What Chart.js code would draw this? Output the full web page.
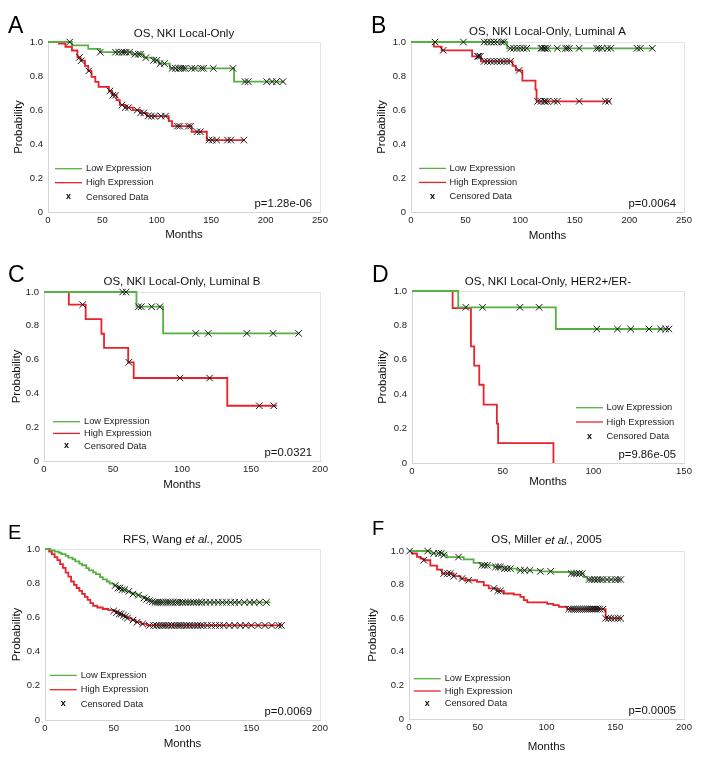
<!DOCTYPE html>
<html>
<head>
<meta charset="utf-8">
<script src="https://cdn.jsdelivr.net/npm/chart.js@4.4.0/dist/chart.umd.min.js"></script>
<style>
html, body { margin: 0; padding: 0; background: #fff; }
#wrap { position: relative; width: 708px; height: 757px; overflow: hidden; }
canvas { position: absolute; }
</style>
</head>
<body>
<div id="wrap">
  <canvas id="panelA"></canvas>
  <canvas id="panelB"></canvas>
  <canvas id="panelC"></canvas>
  <canvas id="panelD"></canvas>
  <canvas id="panelE"></canvas>
  <canvas id="panelF"></canvas>
</div>
<script>
//////////////////////////////// DATA (months / survival probability)

// A : OS, NKI Local-Only
const aLowTime  = [0, 22, 37, 48, 77, 88, 97, 102, 112, 171, 217];
const aLowSurv  = [1, 0.98, 0.96, 0.94, 0.928, 0.908, 0.892, 0.873, 0.845, 0.767, 0.767];
const aLowCens  = [20, 48, 62, 65, 68, 70, 72, 75, 80, 83, 85, 90, 97, 100, 103, 107, 114, 117, 120, 122, 124, 126, 132, 135, 141, 143, 152, 170, 181, 184, 201, 206, 210, 216];
const aHighTime = [0, 10, 16, 22, 27, 30, 34, 37, 40, 43.5, 46.5, 56, 59, 63, 66, 71, 78, 85, 91, 111, 114, 132, 146, 181];
const aHighSurv = [1, 0.99, 0.972, 0.95, 0.91, 0.89, 0.86, 0.83, 0.795, 0.765, 0.736, 0.712, 0.687, 0.658, 0.63, 0.614, 0.599, 0.583, 0.564, 0.535, 0.505, 0.472, 0.423, 0.423];
const aHighCens = [29, 30.5, 37.5, 57, 59.5, 62, 68, 71, 74, 82, 85, 88, 92, 95, 98, 104, 108, 119, 121, 129, 131, 137, 140, 148, 151, 155, 165, 168, 180];

// B : OS, NKI Local-Only, Luminal A
const bLowTime  = [0, 88, 222];
const bLowSurv  = [1, 0.963, 0.963];
const bLowCens  = [22, 48, 67, 70, 73, 76, 79, 83, 85, 91, 94, 97, 100, 103, 106, 119, 120, 122, 123, 125, 134, 141.5, 143, 145, 154, 170, 172, 175, 180, 183, 207, 210, 221];
const bHighTime = [0, 21, 28, 56, 64, 93, 96, 102, 114, 115, 183];
const bHighSurv = [1, 0.973, 0.951, 0.916, 0.886, 0.86, 0.833, 0.773, 0.72, 0.651, 0.651];
const bHighCens = [29.5, 61, 62, 63.5, 67, 70, 73, 76, 79, 82, 85, 88, 91, 99, 116, 119, 122, 123, 125, 131, 134, 154, 178, 181];

// C : OS, NKI Local-Only, Luminal B
const cLowTime  = [0, 67, 86.3, 185];
const cLowSurv  = [1, 0.913, 0.755, 0.755];
const cLowCens  = [57, 59.5, 68.5, 70.5, 78, 84, 110, 119, 147, 166, 184.5];
const cHighTime = [0, 18, 30.2, 41.6, 43.5, 61, 65, 132.8, 168.6];
const cHighSurv = [1, 0.925, 0.84, 0.753, 0.669, 0.584, 0.491, 0.327, 0.327];
const cHighCens = [28, 61.5, 98.5, 120, 156, 166.5];

// D : OS, NKI Local-Only, HER2+/ER-
const dLowTime  = [0, 25.5, 79.3, 142];
const dLowSurv  = [1, 0.905, 0.779, 0.779];
const dLowCens  = [29.7, 38.9, 59.5, 70.1, 101.9, 113.3, 120.6, 130.7, 137.1, 139.9, 141.7];
const dHighTime = [0, 22.4, 32.5, 34.3, 37.1, 39.5, 46.8, 47.5, 78];
const dHighSurv = [1, 0.9, 0.678, 0.566, 0.455, 0.339, 0.229, 0.116, 0];
const dHighCens = [];

// E : RFS, Wang et al., 2005
const eLowTime  = [0, 4, 7, 10, 12, 15, 17, 20, 22, 25, 27, 30, 32, 35, 37, 40, 42, 45, 47, 50, 53, 56, 59, 62, 64, 67, 69, 72, 74, 76, 78, 80, 164];
const eLowSurv  = [1, 0.992, 0.985, 0.978, 0.97, 0.96, 0.95, 0.94, 0.928, 0.915, 0.905, 0.888, 0.875, 0.863, 0.853, 0.835, 0.822, 0.81, 0.798, 0.786, 0.772, 0.762, 0.752, 0.745, 0.737, 0.73, 0.722, 0.714, 0.706, 0.698, 0.692, 0.688, 0.688];
const eLowCens  = [51, 53, 54.5, 56, 58, 61, 64, 68, 72, 74, 76, 78, 80, 81.5, 83, 84.5, 86, 88, 89.5, 91, 93, 95, 96.5, 98, 100, 102, 104, 106, 108, 110, 112, 114, 117, 120, 123, 126, 129, 132, 135, 138, 141, 145, 149, 152, 156, 161];
const eHighTime = [0, 3, 5, 7, 9, 11, 13, 15, 17, 19, 21, 23, 25, 27, 29, 31, 33, 35, 38, 42, 46, 50, 52, 54, 56, 58, 60, 63, 66, 70, 74, 173];
const eHighSurv = [1, 0.985, 0.97, 0.952, 0.935, 0.912, 0.89, 0.862, 0.838, 0.81, 0.79, 0.772, 0.755, 0.738, 0.72, 0.703, 0.684, 0.668, 0.658, 0.649, 0.643, 0.638, 0.628, 0.62, 0.612, 0.604, 0.596, 0.585, 0.572, 0.562, 0.553, 0.553];
const eHighCens = [50, 52, 54, 55.5, 57, 58.5, 60, 64, 67, 71, 76, 79, 81, 83, 85, 86.5, 88, 90, 92, 94, 96, 97.5, 99, 101, 103, 105, 107, 109, 111, 113, 115, 118, 121, 124, 127, 130, 134, 138, 142, 146, 150, 155, 160, 165, 170, 172];

// F : OS, Miller et al., 2005
const fLowTime  = [0, 15.5, 25, 27.7, 39.8, 47, 52, 61.7, 69, 78.6, 95.6, 105, 117.5, 127, 129.6, 155];
const fLowSurv  = [1, 0.986, 0.975, 0.964, 0.95, 0.929, 0.915, 0.905, 0.895, 0.885, 0.879, 0.875, 0.866, 0.845, 0.83, 0.83];
const fLowCens  = [13.6, 18, 21.6, 23.5, 25.2, 36, 53, 55, 57, 63, 65, 66.5, 69.5, 71.5, 73.8, 81, 84, 88, 95.6, 103, 118, 120, 122, 124, 126, 131, 133, 135, 137, 139, 141, 144, 147, 150, 152, 154];
const fHighTime = [0, 2.2, 5.8, 8.3, 10.7, 15.5, 20.4, 24, 32.5, 37.4, 41, 49.5, 54.4, 58, 64, 69, 76.2, 81, 83.5, 86, 100.5, 105, 109, 115, 143, 155];
const fHighSurv = [1, 0.985, 0.965, 0.955, 0.945, 0.913, 0.889, 0.866, 0.85, 0.836, 0.826, 0.816, 0.795, 0.777, 0.763, 0.747, 0.74, 0.727, 0.708, 0.694, 0.685, 0.678, 0.668, 0.654, 0.599, 0.599];
const fHighCens = [0.5, 10.7, 25.2, 28, 30, 32.5, 38.6, 43.4, 61.7, 64.5, 66.5, 116, 118, 119.5, 121, 122.5, 124, 125.5, 127, 128.5, 130, 131.5, 133, 134.5, 136, 137.5, 139, 141, 143, 145, 147, 149.5, 152, 154];

// axis maxima (months) and p-values
const xMaxList = [250, 250, 200, 150, 200, 200];
const pValues  = ["p=1.28e-06", "p=0.0064", "p=0.0321", "p=9.86e-05", "p=0.0069", "p=0.0005"];
const legendLabels = ["Low Expression", "High Expression", "Censored Data"];

//////////////////////////////// STYLE

const GREEN = "rgb(86, 176, 66)";
const RED = "rgb(232, 34, 42)";
const FONT = '"Liberation Sans", Arial, sans-serif';

//////////////////////////////// PANELS (layout only)

const panels = [
    { id: "panelA", letter: "A", box: [0, 0, 354, 250], area: [48, 42, 320, 212],
      title: [["OS, NKI Local-Only", false]], titleDy: 8.5, letterPos: [8, 33], letterSize: 23,
      low: [aLowTime, aLowSurv, aLowCens], high: [aHighTime, aHighSurv, aHighCens],
      legend: { lx: 7, tx: 38, rows: [-43.3, -29.3, -15] }, monthsOff: 23, probOff: 29 },
    { id: "panelB", letter: "B", box: [354, 0, 354, 250], area: [411, 42, 684, 212],
      title: [["OS, NKI Local-Only, Luminal A", false]], titleDy: 10, letterPos: [371, 33], letterSize: 23,
      low: [bLowTime, bLowSurv, bLowCens], high: [bHighTime, bHighSurv, bHighCens],
      legend: { lx: 8, tx: 38.5, rows: [-43.6, -29.6, -15.3] }, monthsOff: 23.7, probOff: 29 },
    { id: "panelC", letter: "C", box: [0, 250, 354, 250], area: [44, 292, 320, 461],
      title: [["OS, NKI Local-Only, Luminal B", false]], titleDy: 10, letterPos: [8, 282], letterSize: 23,
      low: [cLowTime, cLowSurv, cLowCens], high: [cHighTime, cHighSurv, cHighCens],
      legend: { lx: 9, tx: 40, rows: [-39.3, -27.6, -15] }, monthsOff: 23.7, probOff: 27 },
    { id: "panelD", letter: "D", box: [354, 250, 354, 250], area: [412, 291, 684, 463],
      title: [["OS, NKI Local-Only, HER2+/ER-", false]], titleDy: 9.6, letterPos: [372, 282], letterSize: 23,
      low: [dLowTime, dLowSurv, dLowCens], high: [dHighTime, dHighSurv, dHighCens],
      legend: { lx: 164, tx: 194.6, rows: [-55.3, -41, -26.3] }, monthsOff: 18.4, probOff: 29.4 },
    { id: "panelE", letter: "E", box: [0, 500, 354, 257], area: [45, 549, 320, 720],
      title: [["RFS, Wang ", false], ["et al.", true], [", 2005", false]], titleDy: 9.3, letterPos: [8, 539], letterSize: 20,
      low: [eLowTime, eLowSurv, eLowCens], high: [eHighTime, eHighSurv, eHighCens],
      legend: { lx: 4.7, tx: 35.7, rows: [-44.6, -30.3, -16] }, monthsOff: 23.7, probOff: 28 },
    { id: "panelF", letter: "F", box: [354, 500, 354, 257], area: [409, 551, 684, 719],
      title: [["OS, Miller ", false], ["et al.", true], [", 2005", false]], titleDy: 10.7, letterPos: [372, 535], letterSize: 20,
      low: [fLowTime, fLowSurv, fLowCens], high: [fHighTime, fHighSurv, fHighCens],
      legend: { lx: 4.7, tx: 35.7, rows: [-40.3, -28, -15.6] }, monthsOff: 27.4, probOff: 36.3 }
];

//////////////////////////////// HELPERS

function stepPoints(time, surv) {
    return time.map((t, i) => ({ x: t, y: surv[i] }));
}

// censored mark sits on the curve at its time
function survAt(time, surv, t) {
    let v = surv[0];
    for (let i = 0; i < time.length; i++) {
        if (time[i] <= t) v = surv[i];
    }
    return v;
}

function censPoints(time, surv, cens) {
    return cens.map(t => ({ x: t, y: survAt(time, surv, t) }));
}

//////////////////////////////// CHARTS

panels.forEach((p, idx) => {
    const canvas = document.getElementById(p.id);
    canvas.width = p.box[2];
    canvas.height = p.box[3];
    canvas.style.left = p.box[0] + "px";
    canvas.style.top = p.box[1] + "px";

    const yW = p.area[0] - p.box[0];
    const xH = 36;
    const lh = 11.5 * 1.2;

    // titre, lettre, légende, p-value, cadre
    const decor = {
        id: "decor" + p.letter,
        beforeDatasetsDraw(chart) {
            const ctx = chart.ctx;
            const ca = chart.chartArea;
            ctx.save();
            // box top / right
            ctx.strokeStyle = "#e3e3e3";
            ctx.lineWidth = 1;
            ctx.beginPath();
            ctx.moveTo(ca.left, Math.round(ca.top) + 0.5);
            ctx.lineTo(Math.round(ca.right) + 0.5, Math.round(ca.top) + 0.5);
            ctx.lineTo(Math.round(ca.right) + 0.5, ca.bottom);
            ctx.stroke();
            ctx.restore();
        },
        afterDraw(chart) {
            const ctx = chart.ctx;
            const ca = chart.chartArea;
            ctx.save();

            // panel letter
            ctx.fillStyle = "#000";
            ctx.textBaseline = "alphabetic";
            ctx.textAlign = "left";
            ctx.font = p.letterSize + "px " + FONT;
            ctx.fillText(p.letter, p.letterPos[0] - p.box[0], p.letterPos[1] - p.box[1]);

            // title (italic parts)
            ctx.fillStyle = "#111";
            ctx.textBaseline = "middle";
            let total = 0;
            p.title.forEach(part => {
                ctx.font = (part[1] ? "italic " : "") + "11.5px " + FONT;
                total += ctx.measureText(part[0]).width;
            });
            let tx = (ca.left + ca.right) / 2 - total / 2;
            const ty = ca.top - p.titleDy;
            p.title.forEach(part => {
                ctx.font = (part[1] ? "italic " : "") + "11.5px " + FONT;
                ctx.fillText(part[0], tx, ty);
                tx += ctx.measureText(part[0]).width;
            });

            // legend
            const L = p.legend;
            const x0 = ca.left + L.lx;
            ctx.lineWidth = 1.3;
            [GREEN, RED].forEach((c, i) => {
                const y = ca.bottom + L.rows[i];
                ctx.strokeStyle = c;
                ctx.beginPath();
                ctx.moveTo(x0, y);
                ctx.lineTo(x0 + 27, y);
                ctx.stroke();
            });
            ctx.font = "bold 9px " + FONT;
            ctx.textAlign = "center";
            ctx.fillStyle = "#000";
            ctx.fillText("x", x0 + 13.5, ca.bottom + L.rows[2]);
            ctx.font = "9.3px " + FONT;
            ctx.textAlign = "left";
            ctx.fillStyle = "#222";
            legendLabels.forEach((lab, i) => {
                ctx.fillText(lab, ca.left + L.tx, ca.bottom + L.rows[i]);
            });

            // p-value
            ctx.font = "11.3px " + FONT;
            ctx.textAlign = "right";
            ctx.fillStyle = "#111";
            ctx.fillText(pValues[idx], ca.right - 8, ca.bottom - 8);

            ctx.restore();
        }
    };

    new Chart(canvas, {
        type: "scatter",
        data: {
            datasets: [
                {
                    label: "Censored (low)",
                    data: censPoints(p.low[0], p.low[1], p.low[2]),
                    pointStyle: "crossRot",
                    pointRadius: 4.6,
                    borderColor: "#161616",
                    backgroundColor: "#161616",
                    borderWidth: 1,
                    clip: false
                },
                {
                    label: "Censored (high)",
                    data: censPoints(p.high[0], p.high[1], p.high[2]),
                    pointStyle: "crossRot",
                    pointRadius: 4.6,
                    borderColor: "#161616",
                    backgroundColor: "#161616",
                    borderWidth: 1,
                    clip: false
                },
                {
                    label: legendLabels[0],
                    data: stepPoints(p.low[0], p.low[1]),
                    showLine: true,
                    stepped: true,
                    borderColor: GREEN,
                    borderWidth: 1.8,
                    pointRadius: 0,
                    fill: false,
                    clip: false
                },
                {
                    label: legendLabels[1],
                    data: stepPoints(p.high[0], p.high[1]),
                    showLine: true,
                    stepped: true,
                    borderColor: RED,
                    borderWidth: 1.8,
                    pointRadius: 0,
                    fill: false,
                    clip: false
                }
            ]
        },
        options: {
            responsive: false,
            animation: false,
            layout: {
                padding: {
                    left: 0,
                    top: p.area[1] - p.box[1],
                    right: p.box[0] + p.box[2] - p.area[2],
                    bottom: p.box[1] + p.box[3] - p.area[3] - xH
                }
            },
            plugins: {
                legend: { display: false },
                tooltip: { enabled: false },
                title: { display: false }
            },
            scales: {
                x: {
                    type: "linear",
                    min: 0,
                    max: xMaxList[idx],
                    grid: { display: false, drawTicks: false },
                    border: { color: "#d4d4d4", width: 1 },
                    ticks: {
                        stepSize: 50,
                        padding: 3,
                        color: "#222",
                        font: { family: FONT, size: 9.5 },
                        maxRotation: 0
                    },
                    title: {
                        display: true,
                        text: "Months",
                        color: "#111",
                        font: { family: FONT, size: 11.5 },
                        padding: { top: 0, bottom: Math.max(0, xH - p.monthsOff - lh / 2) }
                    },
                    afterFit(scale) { scale.height = xH; }
                },
                y: {
                    min: 0,
                    max: 1,
                    grid: { display: false, drawTicks: false },
                    border: { color: "#d4d4d4", width: 1 },
                    ticks: {
                        stepSize: 0.2,
                        padding: 5,
                        color: "#222",
                        font: { family: FONT, size: 9.5 },
                        callback: v => (v === 0 ? "0" : v.toFixed(1))
                    },
                    title: {
                        display: true,
                        text: "Probability",
                        color: "#111",
                        font: { family: FONT, size: 11.5 },
                        padding: { top: Math.max(0, yW - p.probOff - lh / 2), bottom: 0 }
                    },
                    afterFit(scale) { scale.width = yW; }
                }
            }
        },
        plugins: [decor]
    });
});
</script>
</body>
</html>
